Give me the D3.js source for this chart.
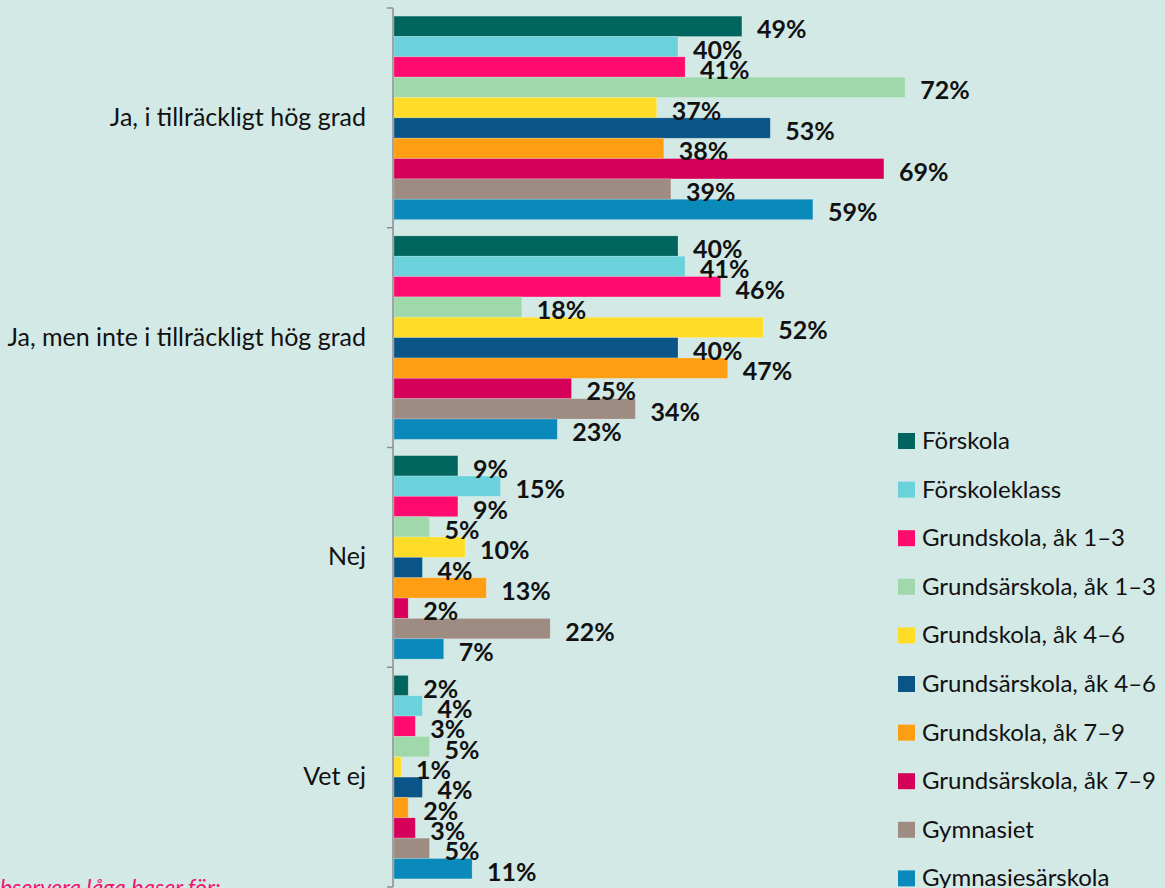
<!DOCTYPE html>
<html>
<head>
<meta charset="utf-8">
<script src="https://cdn.jsdelivr.net/npm/d3@7"></script>
<style>
  html, body { margin: 0; padding: 0; background: #d3e9e6; overflow: hidden; }
  svg { display: block; font-family: Lato, "Open Sans", sans-serif; }
</style>
</head>
<body>
<svg id="chart" width="1165" height="888"></svg>
<script>
const categories = [
  "Ja, i tillräckligt hög grad",
  "Ja, men inte i tillräckligt hög grad",
  "Nej",
  "Vet ej",
];

const seriesNames = [
  "Förskola",
  "Förskoleklass",
  "Grundskola, åk 1–3",
  "Grundsärskola, åk 1–3",
  "Grundskola, åk 4–6",
  "Grundsärskola, åk 4–6",
  "Grundskola, åk 7–9",
  "Grundsärskola, åk 7–9",
  "Gymnasiet",
  "Gymnasiesärskola",
];

const seriesColors = [
  "#00645f",
  "#6bd2dc",
  "#ff0a6e",
  "#9fd8aa",
  "#ffdc28",
  "#0a5587",
  "#ff9e12",
  "#d4005a",
  "#9e8b82",
  "#0a8abb",
];

// one array per answer category, in series order
const jaHog = [49, 40, 41, 72, 37, 53, 38, 69, 39, 59];
const jaMenInte = [40, 41, 46, 18, 52, 40, 47, 25, 34, 23];
const nej = [9, 15, 9, 5, 10, 4, 13, 2, 22, 7];
const vetEj = [2, 4, 3, 5, 1, 4, 2, 3, 5, 11];

const values = [jaHog, jaMenInte, nej, vetEj];

const svg = d3.select("#chart");

const x = d3.scaleLinear().domain([0, 100]).range([394, 394 + 710]);

const y = d3.scaleBand().domain(categories).range([8, 887]).padding(0);

const ySeries = d3
  .scaleBand()
  .domain(seriesNames)
  .range([0, y.bandwidth()])
  .paddingInner(0)
  .paddingOuter(0.4);

// bars
const groups = svg
  .selectAll("g.cat")
  .data(categories)
  .enter()
  .append("g")
  .attr("class", "cat")
  .attr("transform", (d) => "translate(0," + y(d) + ")");

groups
  .selectAll("rect")
  .data((d, i) => values[i].map((v, j) => ({ name: seriesNames[j], v: v, j: j })))
  .enter()
  .append("rect")
  .attr("x", x(0))
  .attr("y", (d) => ySeries(d.name))
  .attr("width", (d) => x(d.v) - x(0))
  .attr("height", ySeries.bandwidth())
  .attr("fill", (d) => seriesColors[d.j])
  .attr("stroke", "rgba(255,255,255,0.25)")
  .attr("stroke-width", 0.8);

groups
  .selectAll("text.val")
  .data((d, i) => values[i].map((v, j) => ({ name: seriesNames[j], v: v, j: j })))
  .enter()
  .append("text")
  .attr("class", "val")
  .attr("x", (d) => x(d.v) + 15)
  .attr("y", (d) => ySeries(d.name) + ySeries.bandwidth() / 2 + 12)
  .attr("font-size", 25)
  .attr("font-weight", "bold")
  .attr("fill", "#111")
  .text((d) => d.v + "%");

// axis line with ticks at band boundaries
const axisColor = "#8c8c8c";
svg
  .append("line")
  .attr("x1", 393)
  .attr("x2", 393)
  .attr("y1", y.range()[0])
  .attr("y2", y.range()[1])
  .attr("stroke", axisColor)
  .attr("stroke-width", 1.5);

const boundaries = categories.map((c) => y(c)).concat([y.range()[1]]);
svg
  .selectAll("line.tick")
  .data(boundaries)
  .enter()
  .append("line")
  .attr("class", "tick")
  .attr("x1", 387)
  .attr("x2", 393)
  .attr("y1", (d) => d)
  .attr("y2", (d) => d)
  .attr("stroke", axisColor)
  .attr("stroke-width", 1.5);

svg
  .selectAll("text.cat")
  .data(categories)
  .enter()
  .append("text")
  .attr("class", "cat")
  .attr("x", 366)
  .attr("y", (d) => y(d) + y.bandwidth() / 2 + 8)
  .attr("text-anchor", "end")
  .attr("font-size", 25)
  .attr("fill", "#111")
  .text((d) => d);

// legend
const legend = svg
  .selectAll("g.legend")
  .data(seriesNames)
  .enter()
  .append("g")
  .attr("class", "legend")
  .attr("transform", (d, i) => "translate(898," + (433 + i * 48.6) + ")");

legend
  .append("rect")
  .attr("width", 17)
  .attr("height", 16)
  .attr("fill", (d, i) => seriesColors[i]);

legend
  .append("text")
  .attr("x", 24)
  .attr("y", 16)
  .attr("font-size", 24)
  .attr("fill", "#111")
  .text((d) => d);

// note, cut off at the bottom edge
svg
  .append("text")
  .attr("x", -17)
  .attr("y", 896)
  .attr("font-size", 23)
  .attr("font-style", "italic")
  .attr("fill", "#f0146e")
  .text("Observera låga baser för:");
</script>
</body>
</html>
